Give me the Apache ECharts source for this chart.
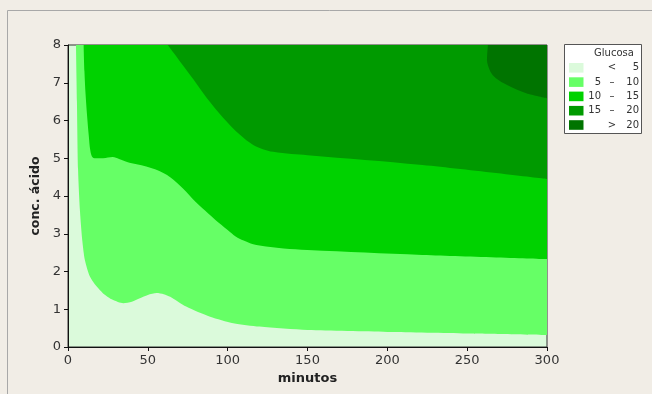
<!DOCTYPE html>
<html>
<head>
<meta charset="utf-8">
<script src="https://cdn.jsdelivr.net/npm/echarts@6/dist/echarts.min.js"></script>
<style>
html,body{margin:0;padding:0;background:#f1ede6;}
#chart{width:652px;height:394px;}
</style>
</head>
<body>
<div id="chart"></div>
<script>
// ---- data ----
const xTicks = [0, 50, 100, 150, 200, 250, 300];
const yTicks = [0, 1, 2, 3, 4, 5, 6, 7, 8];
// contour boundaries [minutos, conc. ácido]
const contour5 = [[5,8],[5.6,6.5],[6.3,4.7],[7.5,3.6],[9,2.8],[10.6,2.3],[13.8,1.86],[18,1.6],[22,1.42],[28,1.25],[34.6,1.16],[40,1.2],[45,1.29],[50,1.38],[55.5,1.43],[60,1.4],[64,1.33],[74,1.07],[89,0.8],[103.5,0.63],[120,0.54],[150,0.45],[200,0.4],[250,0.36],[300,0.32]];
const contour10 = [[9.8,8],[10.3,7.3],[11,6.7],[12,6.1],[13,5.6],[14,5.2],[15.5,5.02],[18,5.0],[22,5.0],[28,5.03],[32,4.98],[37,4.9],[43,4.84],[49,4.78],[55,4.7],[60,4.6],[64,4.5],[68,4.36],[72,4.2],[76,4.02],[80,3.84],[84,3.68],[88,3.53],[92,3.38],[96,3.24],[100,3.1],[105,2.93],[110,2.82],[116,2.72],[124,2.66],[135,2.61],[150,2.57],[222,2.44],[300,2.33]];
const contour15 = [[62.5,8],[66,7.8],[70,7.57],[78.5,7.09],[86.8,6.6],[97,6.08],[107.7,5.62],[116,5.35],[122,5.24],[128.5,5.17],[140,5.11],[150,5.08],[222,4.82],[300,4.45]];
const contour20 = [[263,8],[262.4,7.6],[264.5,7.3],[268,7.12],[275,6.94],[287,6.72],[300,6.59]];
const legendTitle = 'Glucosa';
const levelLow  = ['', '5', '10', '15', ''];
const levelSep  = ['<', '–', '–', '–', '>'];
const levelHigh = ['5', '10', '15', '20', '20'];
const xName = 'minutos';
const yName = 'conc. ácido';

// ---- styles ----
const palette = ['#dbfadb', '#66ff66', '#00d200', '#009a00', '#007400'];
const contours = [contour5, contour10, contour15, contour20];
const smoothing = [0.25, 0.35, 0.35, 0.3];

const chart = echarts.init(document.getElementById('chart'), null, {renderer: 'canvas'});

const series = contours.map((c, i) => ({
  type: 'line',
  data: c,
  smooth: smoothing[i],
  showSymbol: false,
  silent: true,
  lineStyle: {width: 0, color: palette[i + 1]},
  itemStyle: {color: palette[i + 1]},
  areaStyle: {origin: 'end', color: palette[i + 1], opacity: 1},
  z: 2 + i
}));

// legend (graphic)
const lgX = 564, lgY = 44, rowH = 14.3, firstRowCy = 67.8;
const graphics = [
  {type: 'line', shape: {x1: 7.5, y1: 10.5, x2: 7.5, y2: 394}, style: {stroke: '#a8a8a8', lineWidth: 1}, silent: true},
  {type: 'line', shape: {x1: 7.5, y1: 10.5, x2: 652, y2: 10.5}, style: {stroke: '#a8a8a8', lineWidth: 1}, silent: true},
  {type: 'rect', shape: {x: lgX + 0.5, y: lgY + 0.5, width: 77, height: 89}, style: {fill: '#ffffff', stroke: '#555', lineWidth: 1}, silent: true},
  {type: 'text', style: {x: 614, y: 53.5, text: legendTitle, font: '10px "DejaVu Sans"', fill: '#333', align: 'center', verticalAlign: 'middle'}, silent: true}
];
for (let i = 0; i < 5; i++) {
  const cy = firstRowCy + i * rowH;
  graphics.push({type: 'rect', shape: {x: 569, y: cy - 4.8, width: 14.5, height: 9.6}, style: {fill: palette[i]}, silent: true});
  if (levelLow[i]) graphics.push({type: 'text', style: {x: 601, y: cy, text: levelLow[i], font: '10px "DejaVu Sans"', fill: '#333', align: 'right', verticalAlign: 'middle'}, silent: true});
  graphics.push({type: 'text', style: {x: 612, y: cy, text: levelSep[i], font: '10px "DejaVu Sans"', fill: '#333', align: 'center', verticalAlign: 'middle'}, silent: true});
  graphics.push({type: 'text', style: {x: 639, y: cy, text: levelHigh[i], font: '10px "DejaVu Sans"', fill: '#333', align: 'right', verticalAlign: 'middle'}, silent: true});
}

chart.setOption({
  backgroundColor: '#f1ede6',
  animation: false,
  grid: {left: 68, right: 105, top: 45, bottom: 47, show: true, backgroundColor: palette[0], borderColor: '#333', borderWidth: 1, z: 0},
  xAxis: {
    type: 'value', min: xTicks[0], max: xTicks[xTicks.length - 1], interval: 50,
    name: xName, nameLocation: 'middle', nameGap: 22,
    nameTextStyle: {fontFamily: 'DejaVu Sans', fontWeight: 'bold', fontSize: 13, color: '#222'},
    axisLine: {show: true, lineStyle: {color: '#111', width: 1}},
    axisTick: {show: true, length: 4, lineStyle: {color: '#111'}},
    axisLabel: {fontFamily: 'DejaVu Sans', fontSize: 13, color: '#333', margin: 7},
    splitLine: {show: false},
    z: 10
  },
  yAxis: {
    type: 'value', min: yTicks[0], max: yTicks[yTicks.length - 1], interval: 1,
    name: yName, nameLocation: 'middle', nameGap: 24, nameRotate: 90,
    nameTextStyle: {fontFamily: 'DejaVu Sans', fontWeight: 'bold', fontSize: 12.5, color: '#222'},
    axisLine: {show: true, lineStyle: {color: '#111', width: 1}},
    axisTick: {show: true, length: 4, lineStyle: {color: '#111'}},
    axisLabel: {fontFamily: 'DejaVu Sans', fontSize: 13, color: '#333', margin: 7},
    splitLine: {show: false},
    z: 10
  },
  series: series,
  graphic: graphics
});
</script>
</body>
</html>
